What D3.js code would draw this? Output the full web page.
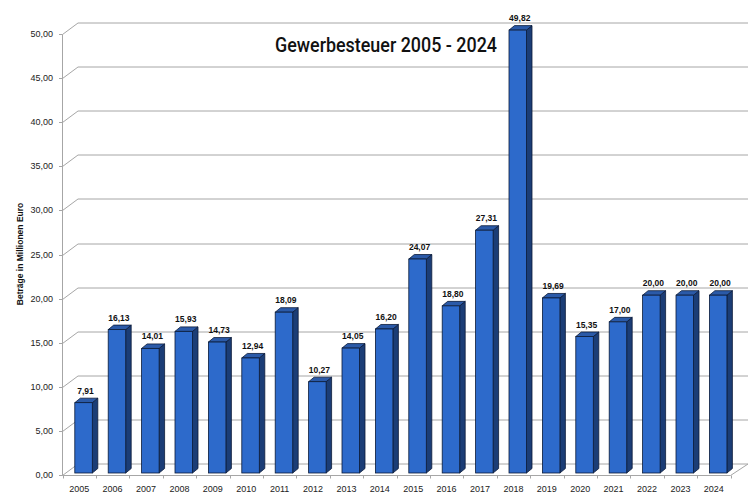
<!DOCTYPE html>
<html>
<head>
<meta charset="utf-8">
<script src="https://cdn.jsdelivr.net/npm/d3@7"></script>
<style>
  body { margin: 0; background: #fff; }
  svg { display: block; }
</style>
</head>
<body>
<div id="chart"></div>
<script>
const years = ["2005", "2006", "2007", "2008", "2009", "2010", "2011", "2012", "2013", "2014",
  "2015", "2016", "2017", "2018", "2019", "2020", "2021", "2022", "2023", "2024"];
const values = [7.91, 16.13, 14.01, 15.93, 14.73, 12.94, 18.09, 10.27, 14.05, 16.20,
  24.07, 18.80, 27.31, 49.82, 19.69, 15.35, 17.00, 20.00, 20.00, 20.00];
const yTicks = [0, 5, 10, 15, 20, 25, 30, 35, 40, 45, 50];
const title = "Gewerbesteuer 2005 - 2024";
const yLabel = "Beträge in Millionen Euro";

const width = 750, height = 497;
const depthX = 15.5, depthY = -11.5;   // wall depth
const barDX = 5.5, barDY = -4.5;       // bar depth

const svg = d3.select("#chart").append("svg")
  .attr("width", width)
  .attr("height", height);

const fmt = v => v.toFixed(2).replace(".", ",");

const x = d3.scaleBand().domain(years).range([62.5, 730.5]).padding(0);
const yAxis = d3.scaleLinear().domain([0, 50]).range([475, 34]);
const yBar = d3.scaleLinear().domain([0, 50]).range([473, 28.5]);

const grid = svg.append("g").attr("stroke", "#a6a6a6").attr("stroke-width", 1).attr("fill", "none");

// back wall gridlines + side diagonals
yTicks.forEach(t => {
  const yy = Math.round(yAxis(t)) + 0.5;
  grid.append("line")
    .attr("x1", 62.5 + depthX).attr("x2", 748)
    .attr("y1", yy + depthY).attr("y2", yy + depthY);
  grid.append("line")
    .attr("x1", 62.5).attr("y1", yy)
    .attr("x2", 62.5 + depthX).attr("y2", yy + depthY);
  grid.append("line")
    .attr("x1", 59).attr("x2", 62.5)
    .attr("y1", yy).attr("y2", yy);
});

// left axis line
grid.append("line")
  .attr("x1", 62.5).attr("x2", 62.5)
  .attr("y1", Math.round(yAxis(50)) + 0.5).attr("y2", Math.round(yAxis(0)) + 0.5);

// floor front edge and right diagonal
const y0 = Math.round(yAxis(0)) + 0.5;
grid.append("line").attr("x1", 62.5).attr("x2", 730.5).attr("y1", y0).attr("y2", y0);
grid.append("line").attr("x1", 730.5).attr("y1", y0).attr("x2", 730.5 + depthX + 2).attr("y2", y0 + depthY);

// x ticks at category boundaries
years.concat(["end"]).forEach((d, i) => {
  const xx = Math.round(62.5 + i * x.step()) + 0.5;
  grid.append("line").attr("x1", xx).attr("x2", xx).attr("y1", y0).attr("y2", y0 + 3);
});

// y tick labels
svg.append("g")
  .selectAll("text")
  .data(yTicks)
  .join("text")
  .attr("x", 53)
  .attr("y", d => yAxis(d) + 3)
  .attr("text-anchor", "end")
  .attr("font-family", "Liberation Sans, Arial, sans-serif")
  .attr("font-size", 9)
  .attr("fill", "#222")
  .text(d => fmt(d));

// x labels
svg.append("g")
  .selectAll("text")
  .data(years)
  .join("text")
  .attr("x", d => x(d) + x.bandwidth() / 2)
  .attr("y", 492)
  .attr("text-anchor", "middle")
  .attr("font-family", "Liberation Sans, Arial, sans-serif")
  .attr("font-size", 9)
  .attr("fill", "#222")
  .text(d => d);

// bars
const barW = 17.5;
const bars = svg.append("g")
  .selectAll("g")
  .data(years.map((yr, i) => ({ year: yr, value: values[i] })))
  .join("g");

const barLeft = d => x(d.year) + 12.3;
const barTop = d => yBar(d.value);
const barBottom = yBar(0);

bars.append("path")
  .attr("d", d => {
    const l = barLeft(d) + barW, t = barTop(d);
    return `M${l},${t}L${l + barDX},${t + barDY}L${l + barDX},${barBottom + barDY}L${l},${barBottom}Z`;
  })
  .attr("fill", "#1b3d76")
  .attr("stroke", "#0b1b38")
  .attr("stroke-width", 0.8);

bars.append("path")
  .attr("d", d => {
    const l = barLeft(d), t = barTop(d);
    return `M${l},${t}L${l + barDX},${t + barDY}L${l + barW + barDX},${t + barDY}L${l + barW},${t}Z`;
  })
  .attr("fill", "#2b5aa8")
  .attr("stroke", "#0b1b38")
  .attr("stroke-width", 0.8);

bars.append("rect")
  .attr("x", d => barLeft(d))
  .attr("y", d => barTop(d))
  .attr("width", barW)
  .attr("height", d => barBottom - barTop(d))
  .attr("fill", "#2d6acb")
  .attr("stroke", "#0b1b38")
  .attr("stroke-width", 0.8);

// value labels
bars.append("text")
  .attr("x", d => barLeft(d) + barW / 2 + 2)
  .attr("y", d => barTop(d) + barDY - 4.5)
  .attr("text-anchor", "middle")
  .attr("font-family", "Liberation Sans, Arial, sans-serif")
  .attr("font-size", 8.5)
  .attr("font-weight", "bold")
  .attr("fill", "#111")
  .text(d => fmt(d.value));

// title
svg.append("text")
  .attr("x", 275)
  .attr("y", 51.5)
  .attr("font-family", "Roboto, sans-serif")
  .attr("font-weight", 500)
  .attr("font-size", 20)
  .attr("textLength", 222)
  .attr("lengthAdjust", "spacingAndGlyphs")
  .attr("fill", "#111")
  .text(title);

// y-axis title
svg.append("text")
  .attr("transform", "translate(23,254) rotate(-90)")
  .attr("text-anchor", "middle")
  .attr("font-family", "Liberation Sans, Arial, sans-serif")
  .attr("font-size", 8.5)
  .attr("font-weight", "bold")
  .attr("fill", "#111")
  .text(yLabel);
</script>
</body>
</html>
